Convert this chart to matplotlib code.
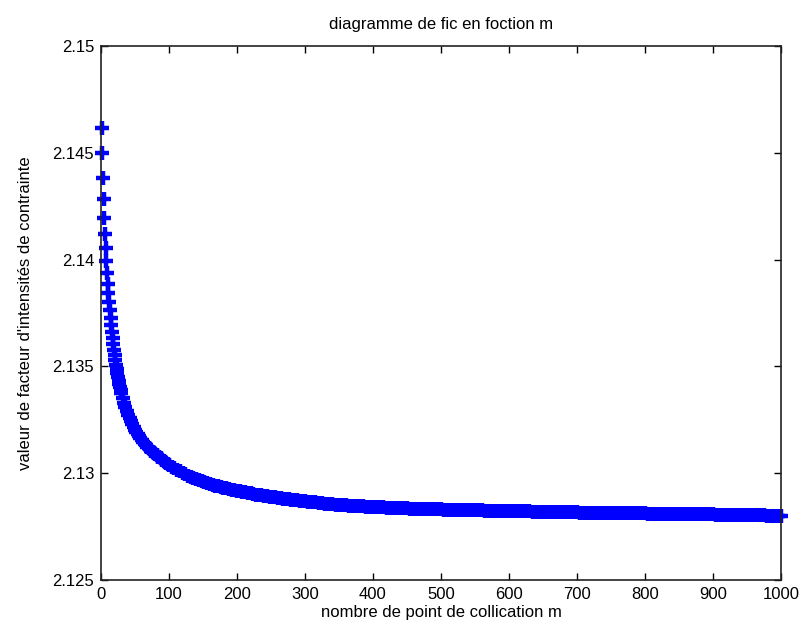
import numpy as np
import matplotlib
matplotlib.use("Agg")
import matplotlib.pyplot as plt

plt.rcParams['font.family'] = ['Liberation Sans', 'DejaVu Sans']

title = "diagramme de fic en foction m"
xlabel = "nombre de point de collication m"
ylabel = "valeur de facteur d'intensités de contrainte"

xticks = [0, 100, 200, 300, 400, 500, 600, 700, 800, 900, 1000]
yticks = [2.125, 2.13, 2.135, 2.14, 2.145, 2.15]
ytick_labels = ["2.125", "2.13", "2.135", "2.14", "2.145", "2.15"]

# number of collocation points m (sampled)
m_a = np.arange(1, 31, 1)
m_b = np.arange(32, 101, 2)
m_c = np.arange(104, 301, 4)
m_d = np.arange(305, 1001, 5)

fic_a = [2.14616, 2.14499, 2.14382, 2.14284, 2.14195, 2.14120, 2.14054, 2.13993,
         2.13937, 2.13886, 2.13844, 2.13802, 2.13764, 2.13727, 2.13694, 2.13661,
         2.13633, 2.13605, 2.13577, 2.13553, 2.13530, 2.13507, 2.13488, 2.13469,
         2.13450, 2.13432, 2.13418, 2.13404, 2.13390, 2.13375]

fic_b = [2.13352, 2.13329, 2.13310, 2.13291, 2.13272, 2.13258, 2.13244, 2.13230,
         2.13216, 2.13202, 2.13193, 2.13184, 2.13174, 2.13165, 2.13155, 2.13146,
         2.13139, 2.13132, 2.13125, 2.13118, 2.13111, 2.13104, 2.13099, 2.13095,
         2.13088, 2.13083, 2.13078, 2.13074, 2.13069, 2.13064, 2.13057, 2.13052,
         2.13048, 2.13043, 2.13038]

fic_c = [2.13031, 2.13024, 2.13017, 2.13010, 2.13003, 2.12996, 2.12989, 2.12982,
         2.12978, 2.12973, 2.12968, 2.12964, 2.12959, 2.12954, 2.12949, 2.12946,
         2.12942, 2.12939, 2.12935, 2.12932, 2.12929, 2.12926, 2.12923, 2.12920,
         2.12918, 2.12915, 2.12912, 2.12910, 2.12907, 2.12905, 2.12903, 2.12900,
         2.12898, 2.12896, 2.12894, 2.12892, 2.12890, 2.12889, 2.12887, 2.12885,
         2.12883, 2.12881, 2.12879, 2.12878, 2.12876, 2.12875, 2.12873, 2.12872,
         2.12870, 2.12869]

fic_d = [2.128671, 2.128652, 2.128633, 2.128615, 2.128596, 2.128577, 2.128558, 2.128544,
         2.128530, 2.128516, 2.128502, 2.128493, 2.128484, 2.128474, 2.128465, 2.128455,
         2.128446, 2.128437, 2.128427, 2.128418,
         2.128411, 2.128404, 2.128397, 2.128390, 2.128383, 2.128376, 2.128369, 2.128362,
         2.128355, 2.128348,
         2.128343, 2.128339, 2.128334, 2.128329, 2.128324, 2.128320, 2.128315, 2.128310,
         2.128306, 2.128301,
         2.128297, 2.128294, 2.128290, 2.128286, 2.128282, 2.128279, 2.128275, 2.128271,
         2.128267, 2.128263,
         2.128260, 2.128257, 2.128253, 2.128250, 2.128247, 2.128244, 2.128240, 2.128237,
         2.128234, 2.128231,
         2.128227, 2.128223, 2.128219, 2.128216, 2.128212, 2.128208, 2.128204, 2.128201,
         2.128197, 2.128193,
         2.128190, 2.128187, 2.128183, 2.128180, 2.128177, 2.128174, 2.128170, 2.128167,
         2.128164, 2.128161,
         2.128158, 2.128156, 2.128154, 2.128151, 2.128149, 2.128147, 2.128144, 2.128142,
         2.128140, 2.128137,
         2.128135, 2.128133, 2.128130, 2.128128, 2.128126, 2.128123, 2.128121, 2.128119,
         2.128116, 2.128114,
         2.128112, 2.128109, 2.128107, 2.128105, 2.128102, 2.128100, 2.128098, 2.128095,
         2.128093, 2.128090,
         2.128088, 2.128086, 2.128083, 2.128081, 2.128079, 2.128076, 2.128074, 2.128072,
         2.128069, 2.128067,
         2.128064, 2.128060, 2.128057, 2.128054, 2.128050, 2.128047, 2.128044, 2.128041,
         2.128037, 2.128034,
         2.128031, 2.128028, 2.128025, 2.128023, 2.128020, 2.128017, 2.128014, 2.128011,
         2.128008, 2.128005]

m = np.concatenate([m_a, m_b, m_c, m_d])
fic = np.concatenate([fic_a, fic_b, fic_c, fic_d])
assert len(m) == len(fic)

fig = plt.figure(figsize=(8.04, 6.35), dpi=100)
ax = fig.add_axes([0.1256, 0.0866, 0.9714 - 0.1256, 0.9276 - 0.0866])

ax.plot(m, fic, linestyle='none', marker='+', color=(0, 0, 1),
        markersize=10.5, markeredgewidth=3.2, clip_on=False)

ax.set_xlim(0, 1000)
ax.set_ylim(2.125, 2.15)
ax.set_xticks(xticks)
ax.set_yticks(yticks)
ax.set_yticklabels(ytick_labels)
ax.tick_params(direction='in', top=True, right=True, length=5, width=1,
               labelsize=12, colors='black', pad=5)
for s in ax.spines.values():
    s.set_linewidth(1.2)
    s.set_color('#222222')

ax.set_title(title, fontsize=12, pad=12)
ax.set_xlabel(xlabel, fontsize=12, labelpad=2)
ax.set_ylabel(ylabel, fontsize=12, labelpad=14)

fig.savefig("out.png", dpi=100, facecolor='white')
